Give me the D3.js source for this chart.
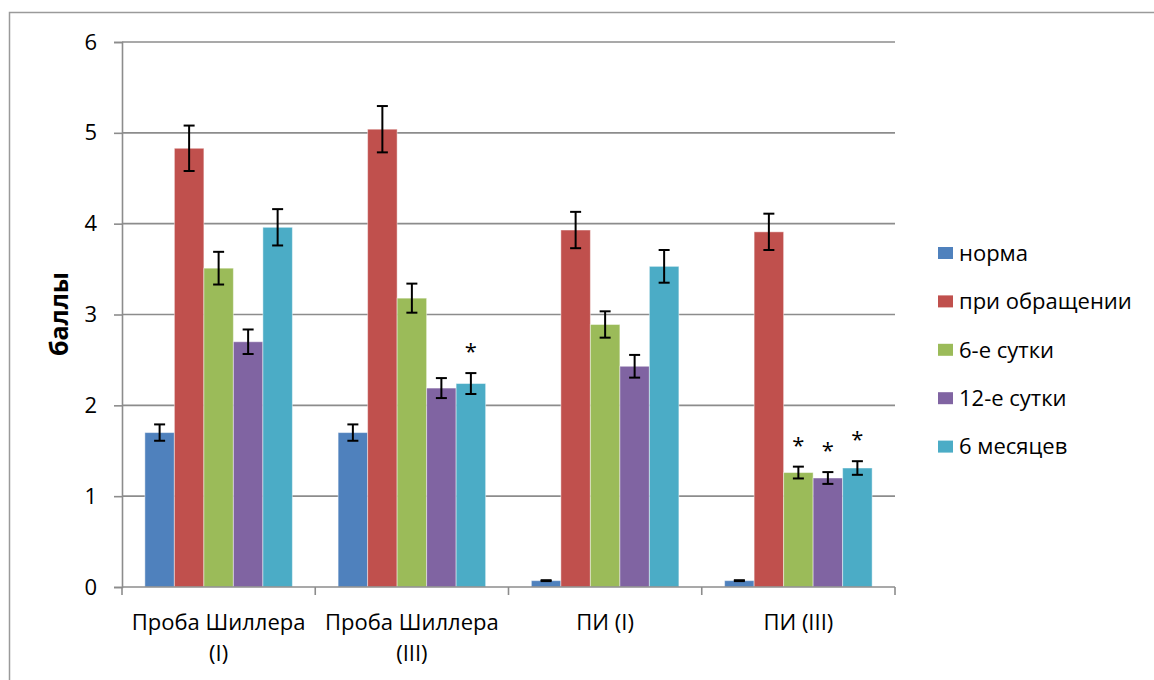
<!DOCTYPE html>
<html>
<head>
<meta charset="utf-8">
<script src="https://cdn.jsdelivr.net/npm/d3@7"></script>
<style>
  html, body { margin: 0; padding: 0; background: #fff; }
  svg { display: block; font-family: "Open Sans", "Noto Sans", sans-serif; }
</style>
</head>
<body>
<svg id="chart" width="1154" height="680"></svg>
<script>
// Categories and series
const categories = ["Проба Шиллера (I)", "Проба Шиллера (III)", "ПИ (I)", "ПИ (III)"];
const categoryLines = [["Проба Шиллера", "(I)"], ["Проба Шиллера", "(III)"], ["ПИ (I)"], ["ПИ (III)"]];
const seriesNames = ["норма", "при обращении", "6-е сутки", "12-е сутки", "6 месяцев"];
const seriesColors = ["#4F81BD", "#C0504D", "#9BBB59", "#8064A2", "#4BACC6"];

// Mean values per series (one entry per category)
const norma      = [1.70, 1.70, 0.07, 0.07];
const pri        = [4.83, 5.04, 3.93, 3.91];
const day6       = [3.51, 3.18, 2.89, 1.26];
const day12      = [2.70, 2.19, 2.43, 1.20];
const month6     = [3.96, 2.24, 3.53, 1.31];

// Error margins (±)
const normaErr   = [0.09, 0.09, 0.005, 0.005];
const priErr     = [0.25, 0.255, 0.20, 0.20];
const day6Err    = [0.18, 0.16, 0.145, 0.065];
const day12Err   = [0.135, 0.11, 0.125, 0.065];
const month6Err  = [0.20, 0.115, 0.18, 0.075];

// Significance marks (*)
const normaSig   = [0, 0, 0, 0];
const priSig     = [0, 0, 0, 0];
const day6Sig    = [0, 0, 0, 1];
const day12Sig   = [0, 0, 0, 1];
const month6Sig  = [0, 1, 0, 1];

const yTicks = [0, 1, 2, 3, 4, 5, 6];
const yLabel = "баллы";

const values = [norma, pri, day6, day12, month6];
const errs = [normaErr, priErr, day6Err, day12Err, month6Err];
const sigs = [normaSig, priSig, day6Sig, day12Sig, month6Sig];

const svg = d3.select("#chart");
const plotLeft = 122, plotRight = 895, plotTop = 42, plotBottom = 587;
const gridColor = "#8c8c8c";
const fontSize = 22;

// Outer chart frame
svg.append("path")
  .attr("d", "M9.5,680 V12.5 H1154")
  .attr("fill", "none").attr("stroke", "#9a9a9a").attr("stroke-width", 1.5);

const y = d3.scaleLinear().domain([0, 6]).range([plotBottom, plotTop]);
const x0 = d3.scaleBand().domain(categories).range([plotLeft, plotRight]).padding(0);
const x1 = d3.scaleBand().domain(seriesNames).range([0, x0.bandwidth()])
  .paddingInner(0).paddingOuter(0.775);

// Horizontal gridlines
svg.append("g").selectAll("line").data(yTicks.filter(t => t > 0)).join("line")
  .attr("x1", plotLeft).attr("x2", plotRight)
  .attr("y1", d => y(d)).attr("y2", d => y(d))
  .attr("stroke", gridColor).attr("stroke-width", 1.6);

// Y axis
const yAxis = svg.append("g").attr("transform", `translate(${plotLeft},0)`)
  .call(d3.axisLeft(y).tickValues(yTicks).tickSize(8).tickPadding(17).tickFormat(d3.format("d")));
yAxis.select(".domain").attr("stroke", gridColor).attr("stroke-width", 1.6);
yAxis.selectAll(".tick line").attr("stroke", gridColor).attr("stroke-width", 1.6);
yAxis.selectAll(".tick text").attr("font-size", fontSize).attr("fill", "#000")
  .attr("font-family", "Open Sans, sans-serif");

// Bars
const groups = svg.append("g").selectAll("g").data(categories).join("g")
  .attr("transform", d => `translate(${x0(d)},0)`);

groups.each(function(cat, ci) {
  const g = d3.select(this);
  seriesNames.forEach((s, si) => {
    const v = values[si][ci];
    const e = errs[si][ci];
    const bx = x1(s);
    const bw = x1.bandwidth();
    g.append("rect")
      .attr("x", bx).attr("y", y(v))
      .attr("width", bw).attr("height", y(0) - y(v))
      .attr("fill", seriesColors[si])
      .attr("stroke", "rgba(255,255,255,0.45)").attr("stroke-width", 1);
    const cx = bx + bw / 2;
    const capHalf = 5.5;
    const eg = g.append("g").attr("stroke", "#000").attr("stroke-width", 2);
    eg.append("line").attr("x1", cx).attr("x2", cx).attr("y1", y(v + e)).attr("y2", y(v - e));
    eg.append("line").attr("x1", cx - capHalf).attr("x2", cx + capHalf).attr("y1", y(v + e)).attr("y2", y(v + e));
    eg.append("line").attr("x1", cx - capHalf).attr("x2", cx + capHalf).attr("y1", y(v - e)).attr("y2", y(v - e));
    if (sigs[si][ci]) {
      g.append("text")
        .attr("x", cx).attr("y", y(v + e) - 14)
        .attr("text-anchor", "middle").attr("font-size", fontSize).attr("fill", "#000")
        .text("*");
    }
  });
});

// X axis
const xAxisG = svg.append("g");
xAxisG.append("line").attr("x1", plotLeft).attr("x2", plotRight).attr("y1", plotBottom).attr("y2", plotBottom)
  .attr("stroke", gridColor).attr("stroke-width", 1.6);
const xTickPos = categories.map(c => x0(c)).concat([x0(categories[categories.length - 1]) + x0.bandwidth()]);
xAxisG.selectAll("line.tick").data(xTickPos).join("line").attr("class", "tick")
  .attr("x1", d => d).attr("x2", d => d).attr("y1", plotBottom).attr("y2", plotBottom + 8)
  .attr("stroke", gridColor).attr("stroke-width", 1.6);
xAxisG.selectAll("text").data(categories).join("text")
  .attr("x", d => x0(d) + x0.bandwidth() / 2)
  .attr("y", 630)
  .attr("text-anchor", "middle").attr("font-size", fontSize).attr("fill", "#000")
  .each(function(d, i) {
    const t = d3.select(this);
    categoryLines[i].forEach((ln, li) => {
      t.append("tspan").attr("x", x0(d) + x0.bandwidth() / 2).attr("dy", li === 0 ? 0 : 31).text(ln);
    });
  });

// Y axis title
svg.append("text")
  .attr("transform", `translate(68,314) rotate(-90)`)
  .attr("text-anchor", "middle").attr("font-size", 25).attr("font-weight", "bold").attr("fill", "#000")
  .text(yLabel);

// Legend
const legend = svg.append("g").selectAll("g").data(seriesNames).join("g")
  .attr("transform", (d, i) => `translate(938,${253 + i * 48.4})`);
legend.append("rect").attr("x", 0).attr("y", -6).attr("width", 15).attr("height", 12)
  .attr("fill", (d, i) => seriesColors[i]);
legend.append("text").attr("x", 21).attr("y", 0).attr("dy", "0.35em")
  .attr("font-size", fontSize).attr("fill", "#000").text(d => d);
</script>
</body>
</html>
